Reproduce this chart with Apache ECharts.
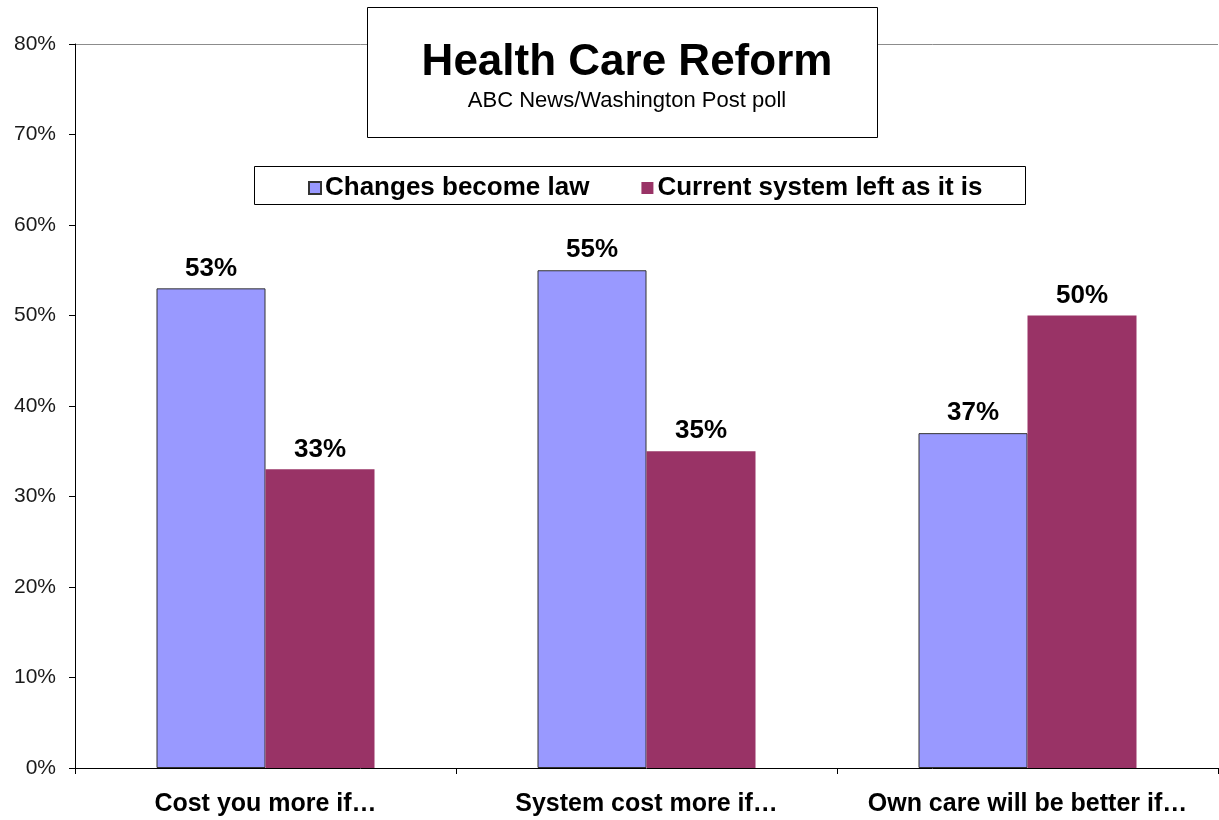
<!DOCTYPE html>
<html><head><meta charset="utf-8">
<script src="https://cdn.jsdelivr.net/npm/echarts@6/dist/echarts.min.js"></script>
<style>html,body{margin:0;padding:0;background:#fff}#c{width:1219px;height:820px}</style>
</head><body><div id="c"></div>
<script>
var categories = ['Cost you more if\u2026', 'System cost more if\u2026', 'Own care will be better if\u2026'];
var seriesNames = ['Changes become law', 'Current system left as it is'];
var changesLaw = [53, 55, 37];
var currentSystem = [33, 35, 50];
var yTicks = [0, 10, 20, 30, 40, 50, 60, 70, 80];

var F = '"Liberation Sans", Arial, sans-serif';
var chart = echarts.init(document.getElementById('c'));
var splitColors = yTicks.map(function (v, i) { return i === yTicks.length - 1 ? '#8c8c8c' : 'rgba(0,0,0,0)'; });
chart.setOption({
  animation: false,
  backgroundColor: '#fff',
  grid: { left: 75, right: 1, top: 44, bottom: 52, containLabel: false },
  title: {
    text: 'Health Care Reform',
    subtext: 'ABC News/Washington Post poll',
    left: 622, top: 36, textAlign: 'center', itemGap: 5, z: 10,
    textStyle: { fontFamily: F, fontWeight: 'bold', fontSize: 44, color: '#000' },
    subtextStyle: { fontFamily: F, fontSize: 22, color: '#000' }
  },
  graphic: [
    { type: 'rect', left: 367, top: 7, z: 5, shape: { width: 510, height: 130 }, style: { fill: '#fff', stroke: '#000', lineWidth: 1 } },
    { type: 'rect', left: 254, top: 166, z: 5, shape: { width: 771, height: 38 }, style: { fill: '#fff', stroke: '#000', lineWidth: 1 } }
  ],
  legend: {
    data: seriesNames, left: 303, top: 170, itemGap: 52, z: 10,
    itemWidth: 12, itemHeight: 12, icon: 'rect',
    textStyle: { fontFamily: F, fontWeight: 'bold', fontSize: 26, color: '#000', padding: [0, 0, 0, -1] }
  },
  xAxis: {
    type: 'category', data: categories,
    axisLine: { lineStyle: { color: '#000', width: 1 } },
    axisTick: { show: true, interval: 0, length: 6, lineStyle: { color: '#000' } },
    axisLabel: { interval: 0, hideOverlap: false, fontFamily: F, fontWeight: 'bold', fontSize: 25, color: '#000', margin: 24 }
  },
  yAxis: {
    type: 'value', min: 0, max: 80, interval: 10,
    axisLine: { show: true, lineStyle: { color: '#000', width: 1 } },
    axisTick: { show: true, length: 6, lineStyle: { color: '#000' } },
    axisLabel: { fontFamily: F, fontSize: 21, color: '#1a1a1a', margin: 19, formatter: '{value}%' },
    splitLine: { show: true, lineStyle: { color: splitColors, width: 1 } }
  },
  series: [
    {
      name: seriesNames[0], type: 'bar', data: changesLaw, barWidth: 109, barGap: '0%',
      itemStyle: { color: '#9999FF', borderColor: '#333', borderWidth: 1 },
      label: { show: true, position: 'top', distance: 7, formatter: '{c}%', fontFamily: F, fontWeight: 'bold', fontSize: 26, color: '#000' }
    },
    {
      name: seriesNames[1], type: 'bar', data: currentSystem, barWidth: 109, barGap: '0%',
      itemStyle: { color: '#993366' },
      label: { show: true, position: 'top', distance: 7, formatter: '{c}%', fontFamily: F, fontWeight: 'bold', fontSize: 26, color: '#000' }
    }
  ]
});
</script></body></html>
